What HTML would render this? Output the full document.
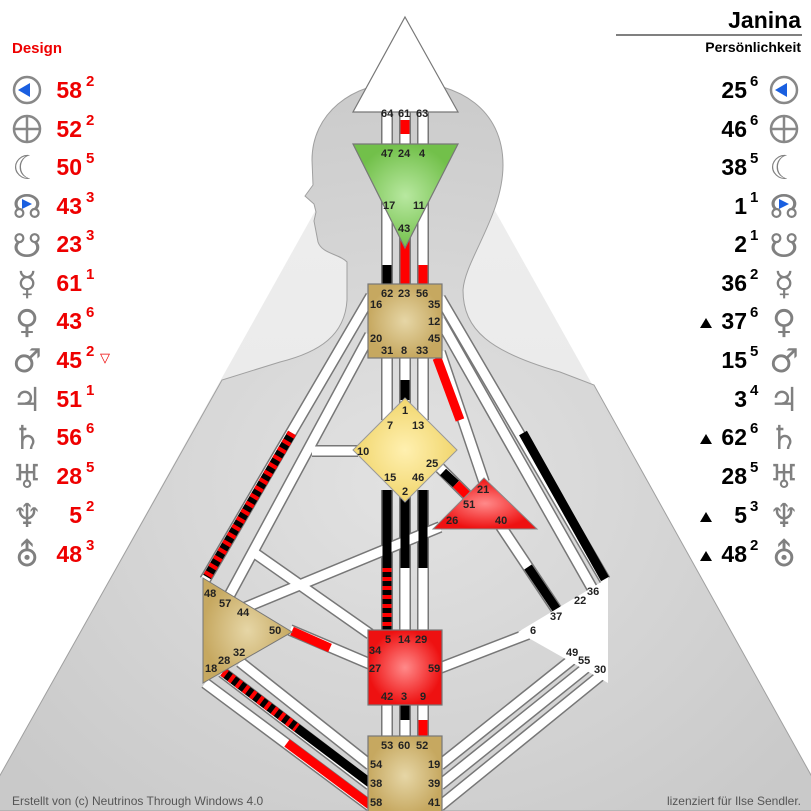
<!DOCTYPE html>
<html><head><meta charset="utf-8"><style>
html,body{margin:0;padding:0;background:#fff;}
svg{display:block;font-family:"Liberation Sans",Arial,sans-serif;}
.lbl{font-size:11px;font-weight:bold;fill:#222;}
.num{font-size:23px;font-weight:bold;}
.sup{font-size:15px;font-weight:bold;}
.sym{font-family:"DejaVu Sans",sans-serif;font-size:33px;fill:#808080;}
</style></head><body>
<svg width="811" height="811" viewBox="0 0 811 811" xmlns="http://www.w3.org/2000/svg">
<defs>
<linearGradient id="tri" x1="0" y1="0" x2="0" y2="1"><stop offset="0" stop-color="#f0f0f0"/><stop offset="1" stop-color="#e4e4e4"/></linearGradient>
<radialGradient id="bod" cx="0.5" cy="0.55" r="0.6"><stop offset="0" stop-color="#e2e2e2"/><stop offset="1" stop-color="#c9c9c9"/></radialGradient>
<radialGradient id="gGreen"><stop offset="0" stop-color="#b8e8a0"/><stop offset="1" stop-color="#72c04a"/></radialGradient>
<radialGradient id="gTan"><stop offset="0" stop-color="#e6d6a6"/><stop offset="1" stop-color="#c6a860"/></radialGradient>
<radialGradient id="gYel"><stop offset="0" stop-color="#fff0b0"/><stop offset="1" stop-color="#f1d66e"/></radialGradient>
<radialGradient id="gRed"><stop offset="0" stop-color="#ff8a8a"/><stop offset="1" stop-color="#ee1111"/></radialGradient>
</defs>
<polygon points="405,50 -20,811 831,811" fill="url(#tri)"/>
<path d="M347,262 L347,300 C345,335 320,352 280,362 L222,380 L-20,811 L831,811 L594,385 L560,372 C490,352 463,330 463,290 C465,260 503,215 503,165 C503,110 460,82 405,82 C350,82 312,115 312,160 L313,185 L305,196 L314,204 L316,212 L314,221 L318,242 C322,254 340,254 347,262 Z" fill="url(#bod)" stroke="#a0a0a0" stroke-width="1"/>

<g stroke-linecap="butt" fill="none">
<g stroke="#777" stroke-width="12">
<line x1="387" y1="112" x2="387" y2="150"/><line x1="405" y1="112" x2="405" y2="150"/><line x1="423" y1="112" x2="423" y2="150"/>
<line x1="387" y1="160" x2="387" y2="290"/><line x1="405" y1="200" x2="405" y2="290"/><line x1="423" y1="160" x2="423" y2="290"/>
<line x1="387" y1="355" x2="387" y2="420"/><line x1="405" y1="355" x2="405" y2="405"/><line x1="423" y1="355" x2="423" y2="420"/>
<line x1="371" y1="296" x2="205" y2="580"/>
<line x1="370" y1="335" x2="228" y2="598"/>
<line x1="312" y1="451" x2="358" y2="451"/>
<line x1="256" y1="554" x2="370" y2="634"/>
<line x1="244" y1="608" x2="440" y2="527"/>
<line x1="440" y1="298" x2="605" y2="580"/>
<line x1="440" y1="320" x2="592" y2="588"/>
<line x1="440" y1="352" x2="484" y2="482"/>
<line x1="440" y1="468" x2="472" y2="500"/>
<line x1="500" y1="525" x2="558" y2="612"/>
<line x1="387" y1="490" x2="387" y2="634"/><line x1="405" y1="490" x2="405" y2="634"/><line x1="423" y1="490" x2="423" y2="634"/>
<line x1="290" y1="630" x2="370" y2="664"/>
<line x1="440" y1="668" x2="528" y2="634"/>
<line x1="387" y1="700" x2="387" y2="740"/><line x1="405" y1="700" x2="405" y2="740"/><line x1="423" y1="700" x2="423" y2="740"/>
<line x1="240" y1="662" x2="370" y2="765"/>
<line x1="222" y1="672" x2="370" y2="785"/>
<line x1="205" y1="683" x2="370" y2="806"/>
<line x1="440" y1="765" x2="574" y2="658"/>
<line x1="440" y1="785" x2="587" y2="667"/>
<line x1="440" y1="806" x2="600" y2="676"/>
</g>
<g stroke="#fff" stroke-width="9">
<line x1="387" y1="112" x2="387" y2="150"/><line x1="405" y1="112" x2="405" y2="150"/><line x1="423" y1="112" x2="423" y2="150"/>
<line x1="387" y1="160" x2="387" y2="290"/><line x1="405" y1="200" x2="405" y2="290"/><line x1="423" y1="160" x2="423" y2="290"/>
<line x1="387" y1="355" x2="387" y2="420"/><line x1="405" y1="355" x2="405" y2="405"/><line x1="423" y1="355" x2="423" y2="420"/>
<line x1="371" y1="296" x2="205" y2="580"/>
<line x1="370" y1="335" x2="228" y2="598"/>
<line x1="312" y1="451" x2="358" y2="451"/>
<line x1="256" y1="554" x2="370" y2="634"/>
<line x1="244" y1="608" x2="440" y2="527"/>
<line x1="440" y1="298" x2="605" y2="580"/>
<line x1="440" y1="320" x2="592" y2="588"/>
<line x1="440" y1="352" x2="484" y2="482"/>
<line x1="440" y1="468" x2="472" y2="500"/>
<line x1="500" y1="525" x2="558" y2="612"/>
<line x1="387" y1="490" x2="387" y2="634"/><line x1="405" y1="490" x2="405" y2="634"/><line x1="423" y1="490" x2="423" y2="634"/>
<line x1="290" y1="630" x2="370" y2="664"/>
<line x1="440" y1="668" x2="528" y2="634"/>
<line x1="387" y1="700" x2="387" y2="740"/><line x1="405" y1="700" x2="405" y2="740"/><line x1="423" y1="700" x2="423" y2="740"/>
<line x1="240" y1="662" x2="370" y2="765"/>
<line x1="222" y1="672" x2="370" y2="785"/>
<line x1="205" y1="683" x2="370" y2="806"/>
<line x1="440" y1="765" x2="574" y2="658"/>
<line x1="440" y1="785" x2="587" y2="667"/>
<line x1="440" y1="806" x2="600" y2="676"/>
</g>
<g stroke-width="9">
<line x1="405" y1="120" x2="405" y2="134" stroke="#f00"/>
<line x1="387" y1="265" x2="387" y2="286" stroke="#000"/>
<line x1="405" y1="235" x2="405" y2="286" stroke="#f00"/>
<line x1="423" y1="265" x2="423" y2="286" stroke="#f00"/>
<line x1="405" y1="380" x2="405" y2="400" stroke="#000"/>
<line x1="437" y1="358" x2="460" y2="420" stroke="#f00"/>
<line x1="292" y1="433" x2="207" y2="577" stroke="#000"/>
<line x1="292" y1="433" x2="207" y2="577" stroke="#f00" stroke-dasharray="4,5"/>
<line x1="523" y1="433" x2="605" y2="579" stroke="#000"/>
<line x1="443" y1="472" x2="456" y2="484" stroke="#000"/>
<line x1="456" y1="484" x2="469" y2="497" stroke="#f00"/>
<line x1="528" y1="567" x2="557" y2="610" stroke="#000"/>
<line x1="387" y1="490" x2="387" y2="568" stroke="#000"/>
<line x1="387" y1="568" x2="387" y2="632" stroke="#000"/>
<line x1="387" y1="568" x2="387" y2="632" stroke="#f00" stroke-dasharray="4,5"/>
<line x1="405" y1="490" x2="405" y2="568" stroke="#000"/>
<line x1="423" y1="490" x2="423" y2="568" stroke="#000"/>
<line x1="292" y1="631" x2="330" y2="648" stroke="#f00"/>
<line x1="405" y1="705" x2="405" y2="720" stroke="#000"/>
<line x1="423" y1="720" x2="423" y2="737" stroke="#f00"/>
<line x1="223" y1="672" x2="297" y2="728" stroke="#000"/>
<line x1="223" y1="672" x2="297" y2="728" stroke="#f00" stroke-dasharray="4,5"/>
<line x1="297" y1="728" x2="370" y2="783" stroke="#000"/>
<line x1="287" y1="743" x2="370" y2="805" stroke="#f00"/>
</g>
</g>

<polygon points="405,17 458,112 353,112" fill="#fff" stroke="#777" stroke-width="1.2"/>
<polygon points="353,144 458,144 405,248" fill="url(#gGreen)" stroke="#777" stroke-width="1.2"/>
<rect x="368" y="284" width="74" height="74" fill="url(#gTan)" stroke="#777" stroke-width="1.2"/>
<polygon points="405,398 457,450 405,502 353,450" fill="url(#gYel)" stroke="#999" stroke-width="1"/>
<polygon points="484,478 537,529 433,529" fill="url(#gRed)" stroke="#888" stroke-width="1"/>
<polygon points="203,578 292,632 203,683" fill="url(#gTan)" stroke="#777" stroke-width="1"/>
<polygon points="608,578 608,683 518,632" fill="#fff"/>
<rect x="368" y="630" width="74" height="75" fill="url(#gRed)" stroke="#777" stroke-width="1.2"/>
<rect x="368" y="736" width="74" height="80" fill="url(#gTan)" stroke="#777" stroke-width="1.2"/>

<g class="lbl">
<text x="381" y="117">64</text><text x="398" y="117">61</text><text x="416" y="117">63</text>
<text x="381" y="157">47</text><text x="398" y="157">24</text><text x="419" y="157">4</text>
<text x="383" y="209">17</text><text x="413" y="209">11</text><text x="398" y="232">43</text>
<text x="381" y="297">62</text><text x="398" y="297">23</text><text x="416" y="297">56</text>
<text x="370" y="308">16</text><text x="428" y="308">35</text><text x="428" y="325">12</text>
<text x="370" y="342">20</text><text x="428" y="342">45</text>
<text x="381" y="354">31</text><text x="401" y="354">8</text><text x="416" y="354">33</text>
<text x="402" y="414">1</text><text x="387" y="429">7</text><text x="412" y="429">13</text>
<text x="357" y="455">10</text><text x="426" y="467">25</text>
<text x="384" y="481">15</text><text x="412" y="481">46</text><text x="402" y="495">2</text>
<text x="477" y="493">21</text><text x="463" y="508">51</text><text x="446" y="524">26</text><text x="495" y="524">40</text>
<text x="204" y="597">48</text><text x="219" y="607">57</text><text x="237" y="616">44</text><text x="269" y="634">50</text>
<text x="233" y="656">32</text><text x="218" y="664">28</text><text x="205" y="672">18</text>
<text x="587" y="595">36</text><text x="574" y="604">22</text><text x="550" y="620">37</text><text x="530" y="634">6</text>
<text x="566" y="656">49</text><text x="578" y="664">55</text><text x="594" y="673">30</text>
<text x="385" y="643">5</text><text x="398" y="643">14</text><text x="415" y="643">29</text>
<text x="369" y="654">34</text><text x="369" y="672">27</text><text x="428" y="672">59</text>
<text x="381" y="700">42</text><text x="401" y="700">3</text><text x="420" y="700">9</text>
<text x="381" y="749">53</text><text x="398" y="749">60</text><text x="416" y="749">52</text>
<text x="370" y="768">54</text><text x="428" y="768">19</text>
<text x="370" y="787">38</text><text x="428" y="787">39</text>
<text x="370" y="806">58</text><text x="428" y="806">41</text>
</g>

<text x="12" y="53" font-size="15" font-weight="bold" fill="#e00">Design</text>
<g fill="#e00">
<text class="num" x="82" y="98" text-anchor="end">58</text><text class="sup" x="86" y="86">2</text>
<text class="num" x="82" y="137" text-anchor="end">52</text><text class="sup" x="86" y="125">2</text>
<text class="num" x="82" y="175" text-anchor="end">50</text><text class="sup" x="86" y="163">5</text>
<text class="num" x="82" y="214" text-anchor="end">43</text><text class="sup" x="86" y="202">3</text>
<text class="num" x="82" y="252" text-anchor="end">23</text><text class="sup" x="86" y="240">3</text>
<text class="num" x="82" y="291" text-anchor="end">61</text><text class="sup" x="86" y="279">1</text>
<text class="num" x="82" y="329" text-anchor="end">43</text><text class="sup" x="86" y="317">6</text>
<text class="num" x="82" y="368" text-anchor="end">45</text><text class="sup" x="86" y="356">2</text><text x="100" y="362" font-size="13" font-family="DejaVu Sans">▽</text>
<text class="num" x="82" y="407" text-anchor="end">51</text><text class="sup" x="86" y="395">1</text>
<text class="num" x="82" y="445" text-anchor="end">56</text><text class="sup" x="86" y="433">6</text>
<text class="num" x="82" y="484" text-anchor="end">28</text><text class="sup" x="86" y="472">5</text>
<text class="num" x="82" y="523" text-anchor="end">5</text><text class="sup" x="86" y="511">2</text>
<text class="num" x="82" y="562" text-anchor="end">48</text><text class="sup" x="86" y="550">3</text>
</g>
<circle cx="27" cy="90" r="13" fill="#fff" stroke="#888" stroke-width="2.5"/><polygon points="18,90 30,83 30,97" fill="#1a5fe0"/>
<circle cx="27" cy="129" r="13" fill="none" stroke="#888" stroke-width="2.5"/><line x1="14" y1="129" x2="40" y2="129" stroke="#888" stroke-width="2.5"/><line x1="27" y1="116" x2="27" y2="142" stroke="#888" stroke-width="2.5"/>
<g class="sym" text-anchor="middle">
<text x="27" y="179">☾</text>
<text x="27" y="218">☊</text>
<text x="27" y="257">☋</text>
<text x="27" y="295">☿</text>
<text x="27" y="333">♀</text>
<text x="27" y="372">♂</text>
<text x="27" y="411">♃</text>
<text x="27" y="449">♄</text>
<text x="27" y="488">♅</text>
<text x="27" y="527">♆</text>
<text x="27" y="566">⛢</text>
</g>
<polygon points="22,209 32,204 22,199" fill="#1a5fe0"/>

<text x="801" y="28" font-size="23" font-weight="bold" text-anchor="end" fill="#000">Janina</text>
<line x1="616" y1="35" x2="802" y2="35" stroke="#000" stroke-width="1"/>
<text x="801" y="52" font-size="14" font-weight="bold" text-anchor="end" fill="#000">Persönlichkeit</text>
<g fill="#000">
<text class="num" x="747" y="98" text-anchor="end">25</text><text class="sup" x="750" y="86">6</text>
<text class="num" x="747" y="137" text-anchor="end">46</text><text class="sup" x="750" y="125">6</text>
<text class="num" x="747" y="175" text-anchor="end">38</text><text class="sup" x="750" y="163">5</text>
<text class="num" x="747" y="214" text-anchor="end">1</text><text class="sup" x="750" y="202">1</text>
<text class="num" x="747" y="252" text-anchor="end">2</text><text class="sup" x="750" y="240">1</text>
<text class="num" x="747" y="291" text-anchor="end">36</text><text class="sup" x="750" y="279">2</text>
<text class="num" x="747" y="329" text-anchor="end">37</text><text class="sup" x="750" y="317">6</text>
<text class="num" x="747" y="368" text-anchor="end">15</text><text class="sup" x="750" y="356">5</text>
<text class="num" x="747" y="407" text-anchor="end">3</text><text class="sup" x="750" y="395">4</text>
<text class="num" x="747" y="445" text-anchor="end">62</text><text class="sup" x="750" y="433">6</text>
<text class="num" x="747" y="484" text-anchor="end">28</text><text class="sup" x="750" y="472">5</text>
<text class="num" x="747" y="523" text-anchor="end">5</text><text class="sup" x="750" y="511">3</text>
<text class="num" x="747" y="562" text-anchor="end">48</text><text class="sup" x="750" y="550">2</text>
<polygon points="700,328 706,318 712,328"/>
<polygon points="700,444 706,434 712,444"/>
<polygon points="700,522 706,512 712,522"/>
<polygon points="700,561 706,551 712,561"/>
</g>
<circle cx="784" cy="90" r="13" fill="#fff" stroke="#888" stroke-width="2.5"/><polygon points="775,90 787,83 787,97" fill="#1a5fe0"/>
<circle cx="784" cy="129" r="13" fill="none" stroke="#888" stroke-width="2.5"/><line x1="771" y1="129" x2="797" y2="129" stroke="#888" stroke-width="2.5"/><line x1="784" y1="116" x2="784" y2="142" stroke="#888" stroke-width="2.5"/>
<g class="sym" text-anchor="middle">
<text x="784" y="179">☾</text>
<text x="784" y="218">☊</text>
<text x="784" y="257">☋</text>
<text x="784" y="295">☿</text>
<text x="784" y="333">♀</text>
<text x="784" y="372">♂</text>
<text x="784" y="411">♃</text>
<text x="784" y="449">♄</text>
<text x="784" y="488">♅</text>
<text x="784" y="527">♆</text>
<text x="784" y="566">⛢</text>
</g>
<polygon points="779,209 789,204 779,199" fill="#1a5fe0"/>

<text x="12" y="805" font-size="12" fill="#555">Erstellt von (c) Neutrinos Through Windows 4.0</text>
<text x="801" y="805" font-size="12" fill="#555" text-anchor="end">lizenziert für Ilse Sendler.</text>
</svg>
</body></html>
